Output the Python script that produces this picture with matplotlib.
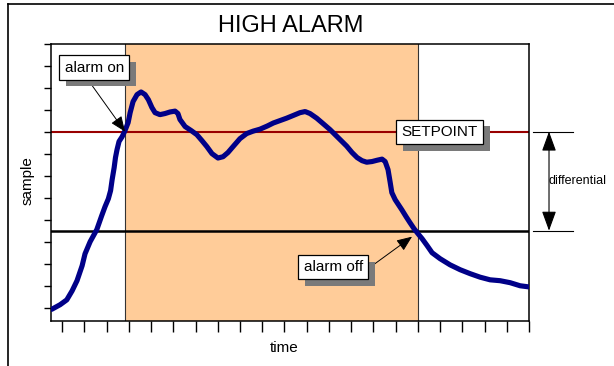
import numpy as np
import matplotlib
matplotlib.use('Agg')
import matplotlib.pyplot as plt
from matplotlib.lines import Line2D
import matplotlib.patheffects as pe

plt.rcParams['font.family'] = ['Liberation Sans', 'DejaVu Sans']

# sampled signal (time in tick units, sample in tick units)
time = [-0.47, -0.09, 0.21, 0.45, 0.67, 0.90, 1.03, 1.26, 1.56, 1.78, 1.93, 2.08,
        2.18, 2.25, 2.34, 2.40, 2.47, 2.56, 2.70, 2.83, 2.97, 3.06, 3.19, 3.37,
        3.55, 3.73, 3.88, 4.04, 4.18, 4.40, 4.63, 4.85, 5.08, 5.21, 5.30, 5.53,
        5.80, 6.06, 6.29, 6.51, 6.74, 7.01, 7.24, 7.46, 7.69, 8.00, 8.30, 8.59,
        8.90, 9.22, 9.50, 9.80, 10.10, 10.39, 10.70, 10.93, 11.15, 11.45, 11.74,
        12.05, 12.37, 12.80, 13.04, 13.27, 13.49, 13.70, 13.94, 14.17, 14.39,
        14.53, 14.66, 14.75, 14.83, 14.98, 15.28, 15.47, 15.65, 15.83, 16.01,
        16.19, 16.42, 16.64, 17.00, 17.45, 17.90, 18.35, 18.80, 19.25, 19.70,
        20.15, 20.60, 20.98]
sample = [-0.07, 0.14, 0.36, 0.77, 1.23, 1.91, 2.45, 3.00, 3.55, 4.18, 4.59, 4.95,
          5.32, 5.82, 6.36, 6.82, 7.18, 7.55, 7.77, 8.05, 8.41, 8.86, 9.36, 9.68,
          9.80, 9.68, 9.45, 9.09, 8.86, 8.77, 8.82, 8.89, 8.93, 8.82, 8.55, 8.23,
          8.05, 7.86, 7.59, 7.32, 7.00, 6.80, 6.86, 7.05, 7.32, 7.68, 7.91, 8.02,
          8.11, 8.25, 8.39, 8.50, 8.61, 8.73, 8.86, 8.91, 8.82, 8.61, 8.36,
          8.09, 7.77, 7.34, 7.05, 6.82, 6.68, 6.61, 6.64, 6.70, 6.75,
          6.64, 6.27, 5.73, 5.23, 4.91, 4.45, 4.14, 3.86, 3.59, 3.36,
          3.14, 2.82, 2.50, 2.23, 1.95, 1.73, 1.55, 1.39, 1.27, 1.23,
          1.14, 1.00, 0.95]

setpoint = 8.0
reset_level = 3.5
alarm_on = 2.83
alarm_off = 16.0

fig = plt.figure(figsize=(6.14, 3.66), dpi=100)
ax = fig.add_axes([51/614, 1-321/366, 478/614, 277.5/366])

ax.axvspan(alarm_on, alarm_off, color='#FFCC99', lw=0, zorder=0)
ax.axvline(alarm_on, color='#333333', lw=0.8, zorder=1)
ax.axvline(alarm_off, color='#333333', lw=0.8, zorder=1)
ax.axhline(setpoint, color='#990000', lw=1.5, zorder=2)
ax.axhline(reset_level, color='black', lw=1.8, zorder=2)
ax.plot(time, sample, color='#000088', lw=3.7, solid_capstyle='round',
        solid_joinstyle='round', zorder=3)

ax.set_xlim(-0.5, 21)
ax.set_ylim(-0.6, 12)
ax.set_xticks(np.arange(0, 22))
ax.set_yticks(np.arange(0, 13))
ax.set_xticklabels([])
ax.set_yticklabels([])
ax.tick_params(axis='x', direction='out', length=8, width=1)
ax.tick_params(axis='y', direction='out', length=5, width=1)
for s in ax.spines.values():
    s.set_linewidth(1.1)

# labelled callouts with drop shadows
shadow = [pe.SimplePatchShadow(offset=(5, -5), shadow_rgbFace='#7a7a7a', alpha=1.0),
          pe.Normal()]
boxes = [('alarm on', 1.44, 10.91), ('SETPOINT', 16.98, setpoint), ('alarm off', 12.19, 1.84)]
for label, bx, by in boxes:
    t = ax.text(bx, by, label, fontsize=11, ha='center', va='center', zorder=6,
                bbox=dict(boxstyle='square,pad=0.33', fc='white', ec='black', lw=0.9))
    t.get_bbox_patch().set_path_effects(shadow)

ax.annotate('', xy=(alarm_on, setpoint), xytext=(1.35, 10.09), zorder=5,
            arrowprops=dict(arrowstyle='-|>,head_length=0.85,head_width=0.35',
                            color='black', lw=0.7, mutation_scale=11,
                            shrinkA=0, shrinkB=0))
ax.annotate('', xy=(15.74, 3.23), xytext=(14.0, 1.95), zorder=5,
            arrowprops=dict(arrowstyle='-|>,head_length=0.85,head_width=0.35',
                            color='black', lw=0.7, mutation_scale=11,
                            shrinkA=0, shrinkB=0))

# differential marker outside the plot
for lvl in (setpoint, reset_level):
    ax.plot([21.18, 22.98], [lvl, lvl], color='black', lw=0.8, clip_on=False)
ax.annotate('', xy=(21.9, setpoint), xytext=(21.9, reset_level), annotation_clip=False,
            arrowprops=dict(arrowstyle='<|-|>,head_length=1.1,head_width=0.4',
                            color='black', lw=0.8, mutation_scale=11,
                            shrinkA=0, shrinkB=0))
ax.text(21.88, (setpoint + reset_level) / 2, 'differential', fontsize=9,
        ha='left', va='center', clip_on=False)

fig.text(290.5/614, 1-32.3/366, 'HIGH ALARM', fontsize=17, ha='center', va='baseline')
fig.text(28/614, 1-181/366, 'sample', fontsize=11, rotation=90, ha='center', va='center')
fig.text(284/614, 1-348/366, 'time', fontsize=11, ha='center', va='center')

# outer frame (left and top edges)
fig.add_artist(Line2D([8/614, 8/614], [0, 1-4/366], color='black', lw=1.2))
fig.add_artist(Line2D([8/614, 1], [1-4/366, 1-4/366], color='black', lw=1.2))

fig.savefig('out.png', dpi=100)
